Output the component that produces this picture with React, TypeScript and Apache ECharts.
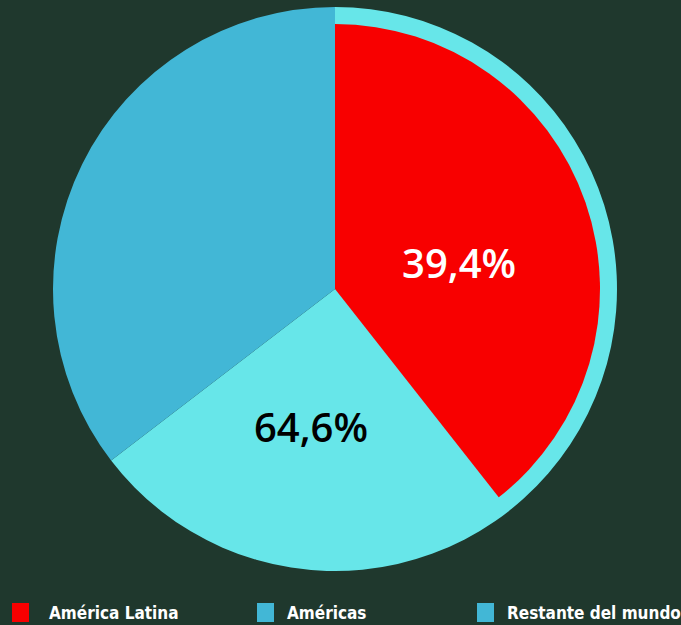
import React, { useEffect, useRef } from "react";
import * as echarts from "echarts";

const categories = ["América Latina", "Américas", "Restante del mundo"];
const latamValue = 39.4;
const americasValue = 64.6;
const restValue = 35.4;

const RED = "#f80000";
const CYAN = "#67e6e9";
const BLUE = "#42b7d6";
const BG = "#1f382d";

const fmt = (v: number) => v.toFixed(1).replace(".", ",") + "%";
const transparent = { color: "rgba(0,0,0,0)" };

export default function App() {
  const ref = useRef<HTMLDivElement>(null);
  useEffect(() => {
    if (!ref.current) return;
    const chart = echarts.init(ref.current, null, { renderer: "svg" });
    const legendText = {
      color: "#ffffff",
      fontFamily: "'DejaVu Sans Condensed', 'DejaVu Sans', sans-serif",
      fontWeight: "bold" as const,
      fontSize: 17,
    };
    const mkLegend = (name: string, color: string, left: number, pad: number) => ({
      show: true,
      left,
      top: 603,
      padding: 0,
      itemWidth: 17,
      itemHeight: 19,
      icon: "rect",
      selectedMode: false,
      data: [{ name, itemStyle: { color } }],
      textStyle: { ...legendText, padding: [0, 0, 0, pad] },
    });
    const center = [335, 289];
    chart.setOption({
      animation: false,
      backgroundColor: BG,
      legend: [
        mkLegend(categories[0], RED, 12, 15),
        mkLegend(categories[1], BLUE, 257, 8),
        mkLegend(categories[2], BLUE, 477, 8),
      ],
      series: [
        {
          type: "pie",
          center,
          radius: 282,
          startAngle: 90,
          silent: true,
          emphasis: { disabled: true },
          label: { show: false },
          labelLine: { show: false },
          data: [
            { name: categories[1], value: americasValue, itemStyle: { color: CYAN } },
            { name: categories[2], value: restValue, itemStyle: { color: BLUE } },
          ],
        },
        {
          type: "pie",
          center,
          radius: 265,
          startAngle: 90,
          silent: true,
          emphasis: { disabled: true },
          labelLine: { show: false },
          data: [
            {
              name: categories[0],
              value: latamValue,
              itemStyle: { color: RED },
              label: {
                show: true,
                position: "inside",
                formatter: fmt(latamValue),
                color: "#ffffff",
                fontFamily: "'Open Sans', sans-serif",
                fontWeight: 600,
                fontSize: 40,
                offset: [-4, 18],
              },
            },
            {
              name: "resto-latam",
              value: 100 - latamValue,
              itemStyle: transparent,
              label: { show: false },
            },
          ],
        },
        {
          type: "pie",
          center,
          radius: 282,
          startAngle: 90,
          silent: true,
          emphasis: { disabled: true },
          labelLine: { show: false },
          data: [
            { name: "l1", value: latamValue, itemStyle: transparent, label: { show: false } },
            {
              name: "l2",
              value: americasValue - latamValue,
              itemStyle: transparent,
              label: {
                show: true,
                position: "inside",
                formatter: fmt(americasValue),
                color: "#000000",
                fontFamily: "'Open Sans', sans-serif",
                fontWeight: 600,
                fontSize: 40,
                offset: [-6, -5],
              },
            },
            { name: "l3", value: restValue, itemStyle: transparent, label: { show: false } },
          ],
        },
      ],
    });
    return () => chart.dispose();
  }, []);
  return (
    <div
      ref={ref}
      style={{ position: "fixed", left: 0, top: 0, width: 681, height: 625 }}
    />
  );
}
